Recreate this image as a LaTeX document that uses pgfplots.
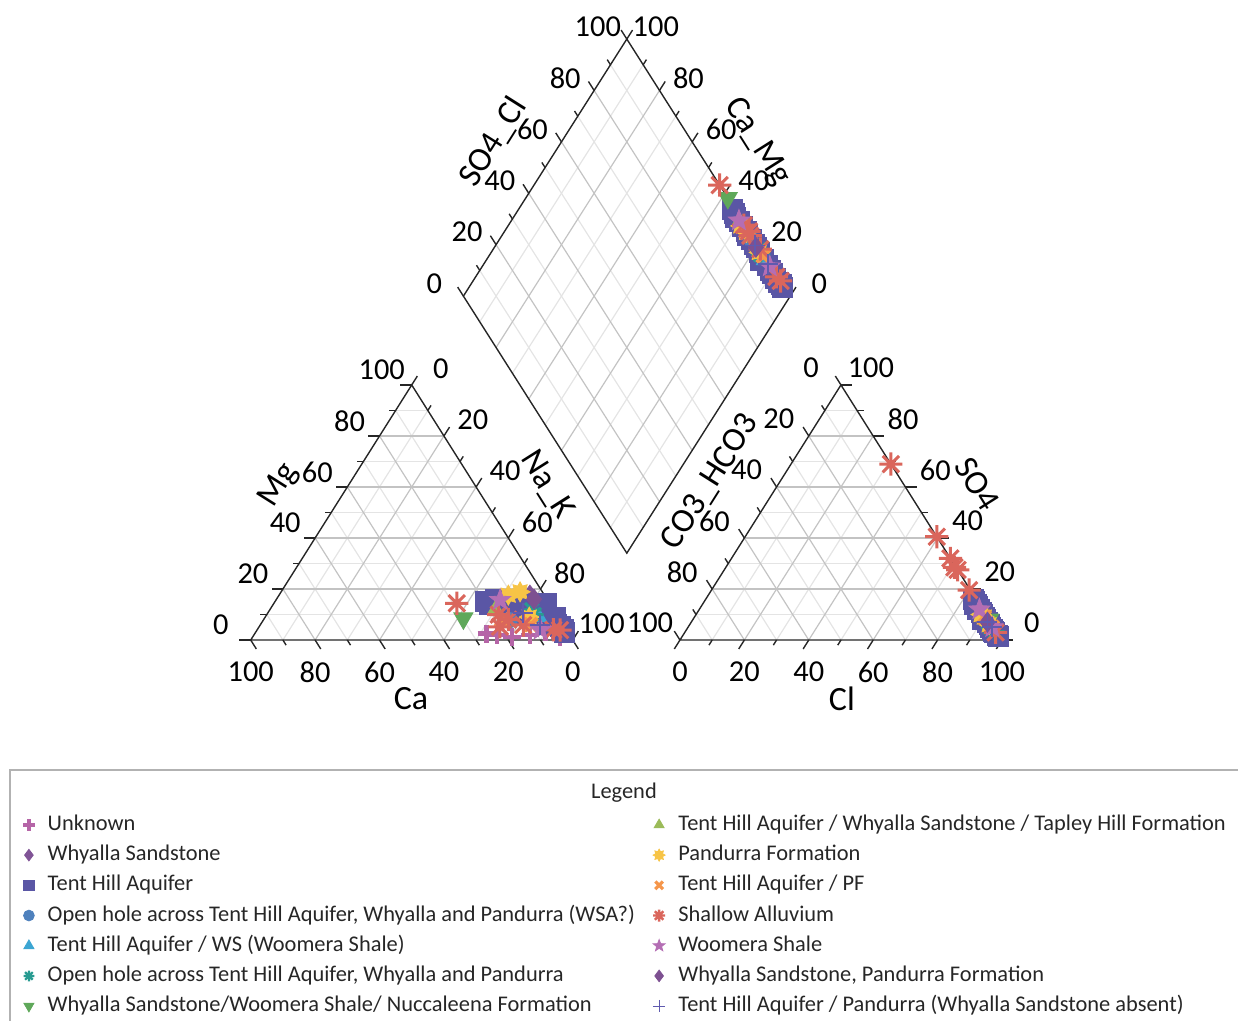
\documentclass[border=0pt]{standalone}
\usepackage{fontspec}
\setmainfont{Carlito}
\usepackage{pgfplots}
\pgfplotsset{compat=1.18}
\usepackage{pgfplotstable}
\usetikzlibrary{plotmarks}

\definecolor{cUnk}{RGB}{181,101,167}
\definecolor{cWs}{RGB}{128,84,150}
\definecolor{cTha}{RGB}{90,86,165}
\definecolor{cOpA}{RGB}{79,129,189}
\definecolor{cThws}{RGB}{60,165,210}
\definecolor{cOpB}{RGB}{40,155,145}
\definecolor{cWwn}{RGB}{95,168,90}
\definecolor{cTap}{RGB}{155,187,89}
\definecolor{cPand}{RGB}{247,196,70}
\definecolor{cThpf}{RGB}{245,150,75}
\definecolor{cSa}{RGB}{218,102,92}
\definecolor{cWoom}{RGB}{180,110,180}
\definecolor{cWspf}{RGB}{125,80,145}
\definecolor{cThp}{RGB}{95,90,175}
\definecolor{gridlight}{RGB}{228,228,228}
\definecolor{griddark}{RGB}{195,195,195}

\pgfdeclareplotmark{burst}{%
 \pgfpathmoveto{\pgfqpoint{-\pgfplotmarksize}{0pt}}\pgfpathlineto{\pgfqpoint{\pgfplotmarksize}{0pt}}%
 \pgfpathmoveto{\pgfqpoint{0pt}{-\pgfplotmarksize}}\pgfpathlineto{\pgfqpoint{0pt}{\pgfplotmarksize}}%
 \pgfpathmoveto{\pgfqpoint{-0.707\pgfplotmarksize}{-0.707\pgfplotmarksize}}\pgfpathlineto{\pgfqpoint{0.707\pgfplotmarksize}{0.707\pgfplotmarksize}}%
 \pgfpathmoveto{\pgfqpoint{-0.707\pgfplotmarksize}{0.707\pgfplotmarksize}}\pgfpathlineto{\pgfqpoint{0.707\pgfplotmarksize}{-0.707\pgfplotmarksize}}%
 \pgfusepathqstroke}
\pgfdeclareplotmark{fstar}{%
 \pgfpathmoveto{\pgfpointpolar{90}{\pgfplotmarksize}}%
 \pgfpathlineto{\pgfpointpolar{126}{0.42\pgfplotmarksize}}%
 \pgfpathlineto{\pgfpointpolar{162}{\pgfplotmarksize}}%
 \pgfpathlineto{\pgfpointpolar{198}{0.42\pgfplotmarksize}}%
 \pgfpathlineto{\pgfpointpolar{234}{\pgfplotmarksize}}%
 \pgfpathlineto{\pgfpointpolar{270}{0.42\pgfplotmarksize}}%
 \pgfpathlineto{\pgfpointpolar{306}{\pgfplotmarksize}}%
 \pgfpathlineto{\pgfpointpolar{342}{0.42\pgfplotmarksize}}%
 \pgfpathlineto{\pgfpointpolar{18}{\pgfplotmarksize}}%
 \pgfpathlineto{\pgfpointpolar{54}{0.42\pgfplotmarksize}}%
 \pgfpathclose\pgfusepathqfillstroke}
\pgfdeclareplotmark{sun}{%
 \pgfpathmoveto{\pgfpointpolar{90}{\pgfplotmarksize}}%
 \pgfpathlineto{\pgfpointpolar{112.5}{0.62\pgfplotmarksize}}%
 \pgfpathlineto{\pgfpointpolar{135}{\pgfplotmarksize}}%
 \pgfpathlineto{\pgfpointpolar{157.5}{0.62\pgfplotmarksize}}%
 \pgfpathlineto{\pgfpointpolar{180}{\pgfplotmarksize}}%
 \pgfpathlineto{\pgfpointpolar{202.5}{0.62\pgfplotmarksize}}%
 \pgfpathlineto{\pgfpointpolar{225}{\pgfplotmarksize}}%
 \pgfpathlineto{\pgfpointpolar{247.5}{0.62\pgfplotmarksize}}%
 \pgfpathlineto{\pgfpointpolar{270}{\pgfplotmarksize}}%
 \pgfpathlineto{\pgfpointpolar{292.5}{0.62\pgfplotmarksize}}%
 \pgfpathlineto{\pgfpointpolar{315}{\pgfplotmarksize}}%
 \pgfpathlineto{\pgfpointpolar{337.5}{0.62\pgfplotmarksize}}%
 \pgfpathlineto{\pgfpointpolar{0}{\pgfplotmarksize}}%
 \pgfpathlineto{\pgfpointpolar{22.5}{0.62\pgfplotmarksize}}%
 \pgfpathlineto{\pgfpointpolar{45}{\pgfplotmarksize}}%
 \pgfpathlineto{\pgfpointpolar{67.5}{0.62\pgfplotmarksize}}%
 \pgfpathclose\pgfusepathqfillstroke}

% data: mg, na (cation %), so4, cl (anion %); Ca = 100-mg-na, HCO3 = 100-so4-cl
\pgfplotstableread{
mg na so4 cl
2.0 75.4 8 90
1.3 80.4 6 92.5
2.0 85.7 4 94.5
1.3 95.4 2 97
3.0 90.0 3 95.5
2.5 72.0 9 89
}\tUnk
\pgfplotstableread{
mg na so4 cl
17.6 77.9 9 89.5
}\tWs
\pgfplotstableread{
mg na so4 cl
15.0 65.3 16 83
14.0 67.0 15 84
13.5 70.0 14 85
15.5 72.0 13 86
12.0 74.0 12 87
14.0 77.0 11 88
11.0 79.0 10 89
13.0 82.0 9 90
14.4 84.7 8 91
10.0 84.0 8 90
8.0 87.0 6 93
7.0 89.0 5 94
9.0 90.0 4 95
5.2 93.5 3 96
4.0 95.0 2 97.5
3.0 96.0 1.5 98
6.0 92.0 3.5 95.5
12.0 80.0 7 92
16.0 68.0 14 84.5
10.5 75.0 12 86.5
}\tTha
\pgfplotstableread{
mg na so4 cl
7.8 76.6 6 93
}\tOpA
\pgfplotstableread{
mg na so4 cl
9.0 85.0 5 94
}\tThws
\pgfplotstableread{
mg na so4 cl
11.8 81.4 3.3 96.2
10.0 83.0 5 94
}\tOpB
\pgfplotstableread{
mg na so4 cl
8.5 61.8 8 92
}\tWwn
\pgfplotstableread{
mg na so4 cl
12.0 70.0 10 89
}\tTap
\pgfplotstableread{
mg na so4 cl
17.6 71.2 10 88.5
18.9 74.2 9 90
9.0 82.0 6 93
}\tPand
\pgfplotstableread{
mg na so4 cl
7.8 74.0 9 90
6.0 84.0 5 94.5
}\tThpf
\pgfplotstableread{
mg na so4 cl
14.4 56.8 69 31
5.2 74.8 40.5 59.5
5.9 81.7 32 68
3.9 94.1 27.5 72.5
8.0 76.0 28.5 71
10.0 72.0 19.6 80
4.0 92.0 3 96.5
}\tSa
\pgfplotstableread{
mg na so4 cl
15.7 69.6 12 87
4.0 88.0 5 94.5
}\tWoom
\pgfplotstableread{
mg na so4 cl
16.0 80.0 7 92
}\tWspf
\pgfplotstableread{
mg na so4 cl
10.6 79.3 7 92
5.9 86.9 5 94.5
}\tThp

\newcommand{\piper}[2]{%
\addplot[only marks,forget plot,#2] table[x expr={\thisrow{na}+0.5*\thisrow{mg}}, y expr={0.866*\thisrow{mg}}]{#1};%
\addplot[only marks,forget plot,#2] table[x expr={133.3+\thisrow{cl}+0.5*\thisrow{so4}}, y expr={0.866*\thisrow{so4}}]{#1};%
\addplot[only marks,forget plot,#2] table[x expr={116.8+0.5075*(\thisrow{so4}+\thisrow{cl}-100+\thisrow{na})}, y expr={29.5+0.8727*(\thisrow{so4}+\thisrow{cl}+100-\thisrow{na})}]{#1};%
}

\newcommand{\pipergrid}[2]{%
 \draw[#2] (axis cs:{0.5*#1},{0.866*#1}) -- (axis cs:{100-0.5*#1},{0.866*#1});
 \draw[#2] (axis cs:#1,0) -- (axis cs:{50+0.5*#1},{0.866*(100-#1)});
 \draw[#2] (axis cs:#1,0) -- (axis cs:{0.5*#1},{0.866*#1});
 \draw[#2] (axis cs:{133.3+0.5*#1},{0.866*#1}) -- (axis cs:{233.3-0.5*#1},{0.866*#1});
 \draw[#2] (axis cs:{133.3+#1},0) -- (axis cs:{183.3+0.5*#1},{0.866*(100-#1)});
 \draw[#2] (axis cs:{133.3+#1},0) -- (axis cs:{133.3+0.5*#1},{0.866*#1});
 \draw[#2] (axis cs:{116.8-0.5075*#1},{29.5+0.8727*#1}) -- (axis cs:{167.55-0.5075*#1},{116.77+0.8727*#1});
 \draw[#2] (axis cs:{116.8+0.5075*#1},{29.5+0.8727*#1}) -- (axis cs:{66.05+0.5075*#1},{116.77+0.8727*#1});
}

\newcommand{\pipertick}[2]{%
 \draw[tk] (axis cs:#1,0) -- ++(axis direction cs:{0.5*#2},{-0.866*#2});
 \draw[tk] (axis cs:{0.5*#1},{0.866*#1}) -- ++(axis direction cs:{-#2},0);
 \draw[tk] (axis cs:{50+0.5*#1},{0.866*(100-#1)}) -- ++(axis direction cs:{0.5*#2},{0.866*#2});
 \draw[tk] (axis cs:{133.3+#1},0) -- ++(axis direction cs:{-0.5*#2},{-0.866*#2});
 \draw[tk] (axis cs:{133.3+0.5*#1},{0.866*#1}) -- ++(axis direction cs:{-0.5*#2},{0.866*#2});
 \draw[tk] (axis cs:{233.3-0.5*#1},{0.866*#1}) -- ++(axis direction cs:{#2},0);
 \draw[tk] (axis cs:{66.05+0.5075*#1},{116.77+0.8727*#1}) -- ++(axis direction cs:{-0.5075*#2},{0.8727*#2});
 \draw[tk] (axis cs:{167.55-0.5075*#1},{116.77+0.8727*#1}) -- ++(axis direction cs:{0.5075*#2},{0.8727*#2});
}

\newcommand{\piperlabels}[1]{%
 \node[lb] at (axis cs:{100-#1},-10.87) {#1};
 \node[lb] at (axis cs:{0.5*#1-9.3},{0.866*#1+5.1}) {#1};
 \node[lb] at (axis cs:{50+0.5*#1+9.0},{0.866*(100-#1)+5.4}) {#1};
 \node[lb] at (axis cs:{133.3+#1},-10.87) {#1};
 \node[lb] at (axis cs:{133.3+0.5*(100-#1)-9.3},{0.866*(100-#1)+5.8}) {#1};
 \node[lb] at (axis cs:{233.3-0.5*#1+9.3},{0.866*#1+5.8}) {#1};
 \node[lb] at (axis cs:{66.05+0.5075*#1-9.0},{116.77+0.8727*#1+4.24}) {#1};
 \node[lb] at (axis cs:{167.55-0.5075*#1+9.0},{116.77+0.8727*#1+4.24}) {#1};
}

\tikzset{tk/.style={black!85,line width=0.7pt},
 lb/.style={font=\fontsize{15.2}{17}\selectfont,text=black,inner sep=0pt},
 tt/.style={font=\fontsize{17}{19}\selectfont,text=black,inner sep=0pt}}

\begin{document}
\begin{tikzpicture}
\begin{axis}[name=ax, width=619pt, height=510pt, scale only axis, hide axis,
 xmin=-77.86, xmax=306.6, ymin=-129.0, ymax=217.3, clip=false,
 legend columns=2, legend cell align=left,
 legend style={at={(rel axis cs:0.0135,0.2088)}, anchor=north west, draw=none, fill=none,
   font=\fontsize{11.2}{13}\selectfont, text=black!85, row sep=1.6pt,
   nodes={text height=8pt, text depth=2.5pt, inner sep=1.5pt},
   /tikz/every odd column/.append style={column sep=5pt},
   /tikz/every even column/.append style={column sep=7.5pt}}]

% grids
\pgfplotsinvokeforeach{10,30,50,70,90}{\pipergrid{#1}{gridlight,line width=0.6pt}}
\pgfplotsinvokeforeach{20,40,60,80}{\pipergrid{#1}{griddark,line width=0.6pt}}
% outlines
\draw[tk] (axis cs:0,0) -- (axis cs:100,0) -- (axis cs:50,86.6) -- cycle;
\draw[tk] (axis cs:133.3,0) -- (axis cs:233.3,0) -- (axis cs:183.3,86.6) -- cycle;
\draw[tk] (axis cs:116.8,29.5) -- (axis cs:66.05,116.77) -- (axis cs:116.8,204.04) -- (axis cs:167.55,116.77) -- cycle;
% ticks
\pgfplotsinvokeforeach{0,20,40,60,80,100}{\pipertick{#1}{3.5}}
\pgfplotsinvokeforeach{10,30,50,70,90}{\pipertick{#1}{2}}
% tick labels
\pgfplotsinvokeforeach{0,20,40,60,80,100}{\piperlabels{#1}}
% titles
\node[tt,rotate=57.7] at (axis cs:8.8,52.5) {Mg};
\node[tt,rotate=-57.7] at (axis cs:92.0,52.6) {Na\_K};
\node[tt] at (axis cs:49.8,-19.9) {Ca};
\node[tt] at (axis cs:183.6,-19.9) {Cl};
\node[tt,rotate=57.7] at (axis cs:142.8,53.5) {CO3\_HCO3};
\node[tt,rotate=-57.7] at (axis cs:225.6,53.0) {SO4};
\node[tt,rotate=57.7] at (axis cs:75.4,169.0) {SO4\_Cl};
\node[tt,rotate=-57.7] at (axis cs:157.4,169.0) {Ca\_Mg};

% data
\piper{\tUnk}{mark=+,color=cUnk,mark options={line width=2.2pt},mark size=4.5pt}
\piper{\tWs}{mark=diamond*,color=cWs,mark size=5pt}
\piper{\tTha}{mark=square*,color=cTha,mark size=5pt}
\piper{\tOpA}{mark=*,color=cOpA,mark size=3.8pt}
\piper{\tThws}{mark=triangle*,color=cThws,mark size=4.5pt}
\piper{\tOpB}{mark=burst,color=cOpB,mark options={line width=1.5pt},mark size=4.8pt}
\piper{\tWwn}{mark=triangle*,color=cWwn,mark options={rotate=180},mark size=5.5pt}
\piper{\tTap}{mark=triangle*,color=cTap,mark size=4.5pt}
\piper{\tPand}{mark=sun,color=cPand,mark size=5pt}
\piper{\tThpf}{mark=x,color=cThpf,mark options={line width=2.2pt},mark size=4.5pt}
\piper{\tSa}{mark=burst,color=cSa,mark options={line width=1.5pt},mark size=5.8pt}
\piper{\tWoom}{mark=fstar,color=cWoom,mark size=5.5pt}
\piper{\tWspf}{mark=diamond*,color=cWspf,mark size=5pt}
\piper{\tThp}{mark=+,color=cThp,mark options={line width=0.9pt},mark size=5pt}

% legend frame and title
\draw[black!30,line width=0.6pt] (rel axis cs:0.00808,-0.05) -- (rel axis cs:0.00808,0.2451) -- (rel axis cs:1.05,0.2451);
\node[font=\fontsize{11.2}{13}\selectfont,text=black!85] at (rel axis cs:0.504,0.2225) {Legend};

% legend entries (row-wise: left column, right column)
\addlegendimage{only marks,mark=+,color=cUnk,mark options={line width=1.6pt},mark size=2.9pt}
\addlegendentry{Unknown}
\addlegendimage{only marks,mark=triangle*,color=cTap,mark size=2.9pt}
\addlegendentry{Tent Hill Aquifer / Whyalla Sandstone / Tapley Hill Formation}
\addlegendimage{only marks,mark=diamond*,color=cWs,mark size=2.9pt}
\addlegendentry{Whyalla Sandstone}
\addlegendimage{only marks,mark=sun,color=cPand,mark size=3pt}
\addlegendentry{Pandurra Formation}
\addlegendimage{only marks,mark=square*,color=cTha,mark size=2.7pt}
\addlegendentry{Tent Hill Aquifer}
\addlegendimage{only marks,mark=x,color=cThpf,mark options={line width=1.6pt},mark size=2.7pt}
\addlegendentry{Tent Hill Aquifer / PF}
\addlegendimage{only marks,mark=*,color=cOpA,mark size=2.7pt}
\addlegendentry{Open hole across Tent Hill Aquifer, Whyalla and Pandurra (WSA?)}
\addlegendimage{only marks,mark=burst,color=cSa,mark options={line width=1.2pt},mark size=3pt}
\addlegendentry{Shallow Alluvium}
\addlegendimage{only marks,mark=triangle*,color=cThws,mark size=2.9pt}
\addlegendentry{Tent Hill Aquifer / WS (Woomera Shale)}
\addlegendimage{only marks,mark=fstar,color=cWoom,mark size=3.1pt}
\addlegendentry{Woomera Shale}
\addlegendimage{only marks,mark=burst,color=cOpB,mark options={line width=1.1pt},mark size=2.7pt}
\addlegendentry{Open hole across Tent Hill Aquifer, Whyalla and Pandurra}
\addlegendimage{only marks,mark=diamond*,color=cWspf,mark size=2.9pt}
\addlegendentry{Whyalla Sandstone, Pandurra Formation}
\addlegendimage{only marks,mark=triangle*,color=cWwn,mark options={rotate=180},mark size=2.9pt}
\addlegendentry{Whyalla Sandstone/Woomera Shale/ Nuccaleena Formation}
\addlegendimage{only marks,mark=+,color=cThp,mark options={line width=0.6pt},mark size=3.1pt}
\addlegendentry{Tent Hill Aquifer / Pandurra (Whyalla Sandstone absent)}
\end{axis}
\pgfresetboundingbox
\path[use as bounding box] (ax.south west) rectangle (ax.north east);
\end{tikzpicture}
\end{document}
